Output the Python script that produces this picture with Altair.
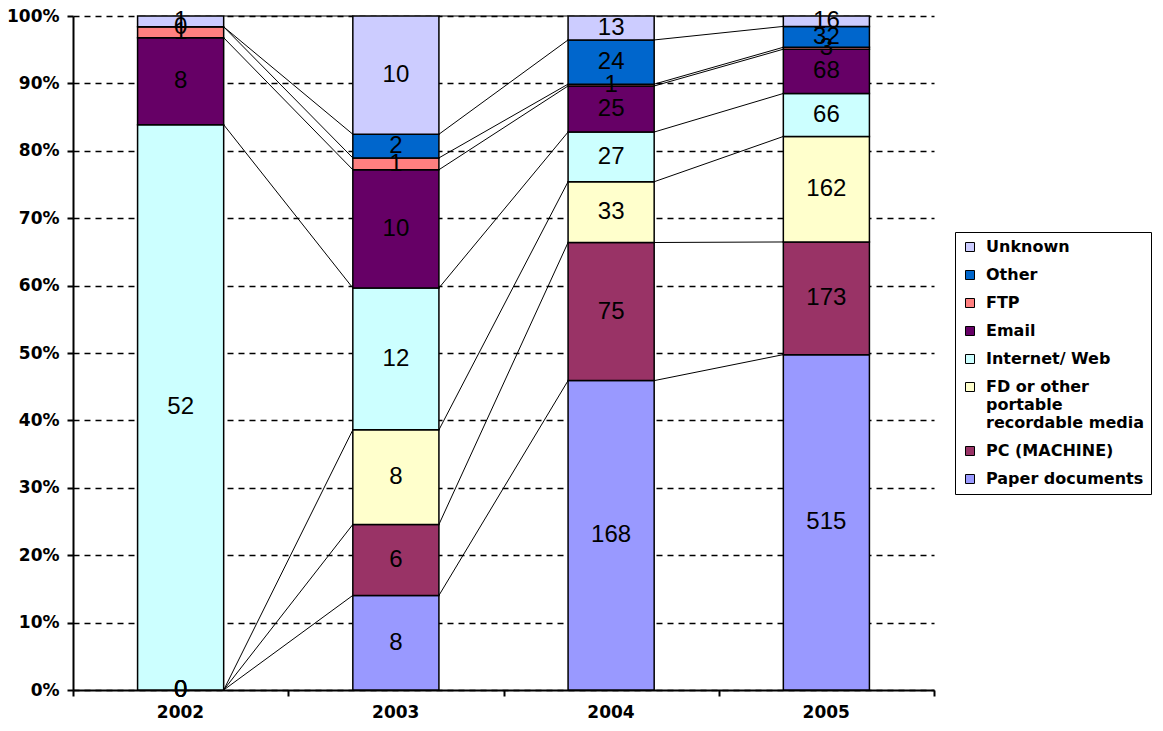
import altair as alt
import pandas as pd

# Incident counts per year, by leak route (stacked bottom to top)
years = ["2002", "2003", "2004", "2005"]
series = [
    "Paper documents",
    "PC (MACHINE)",
    "FD or other portable recordable media",
    "Internet/ Web",
    "Email",
    "FTP",
    "Other",
    "Unknown",
]
colors = ["#9999FF", "#993366", "#FFFFCC", "#CCFFFF", "#660066", "#FF8080", "#0066CC", "#CCCCFF"]

paper = [0, 8, 168, 515]
pc = [0, 6, 75, 173]
fd = [0, 8, 33, 162]
web = [52, 12, 27, 66]
email = [8, 10, 25, 68]
ftp = [1, 1, 1, 3]
other = [0, 2, 24, 32]
unknown = [1, 10, 13, 16]

values = [paper, pc, fd, web, email, ftp, other, unknown]

# Build normalized stacked segments per year
seg_rows = []
tops = {}  # (series, year index) -> cumulative share at top of segment
for i, yr in enumerate(years):
    total = sum(v[i] for v in values)
    cum = 0
    for name, v in zip(series, values):
        y0 = cum / total
        cum += v[i]
        y1 = cum / total
        tops[(name, i)] = y1
        seg_rows.append(
            dict(year=yr, series=name, value=v[i], y0=y0, y1=y1,
                 mid=(y0 + y1) / 2, x0=i + 0.3, x1=i + 0.7, xc=i + 0.5)
        )
segs = pd.DataFrame(seg_rows)

# Series lines joining segment tops of neighbouring bars
line_rows = []
for name in series:
    for i in range(len(years) - 1):
        line_rows.append(
            dict(series=name, xa=i + 0.7, xb=i + 1.3,
                 ya=tops[(name, i)], yb=tops[(name, i + 1)])
        )
lines = pd.DataFrame(line_rows)

xscale = alt.Scale(domain=[0, 4], nice=False, zero=False)
yscale = alt.Scale(domain=[0, 1], nice=False)

year_expr = "[" + ",".join("'%s'" % y for y in years) + "][datum.value] || ''"

x_axis = alt.Axis(
    values=[0, 1, 2, 3, 4],
    labelExpr=year_expr,
    labelOffset=107,
    labelFlush=False,
    labelOverlap=False,
    grid=False,
    tickSize=6,
    tickColor="black",
    tickWidth=2,
    domainColor="black",
    domainWidth=2,
    labelFont="DejaVu Sans",
    labelFontWeight="bold",
    labelFontSize=17,
    labelColor="black",
    labelPadding=8,
)
y_axis = alt.Axis(
    values=[i / 10 for i in range(11)],
    format=".0%",
    grid=True,
    gridColor="black",
    gridDash=[6, 5],
    gridWidth=1.5,
    tickSize=6,
    tickColor="black",
    tickWidth=2,
    domainColor="black",
    domainWidth=2,
    labelFont="DejaVu Sans",
    labelFontWeight="bold",
    labelFontSize=17,
    labelColor="black",
    labelPadding=8,
)

fd_label = series[2]
legend = alt.Legend(
    title=None,
    orient="none",
    legendX=882,
    legendY=216,
    strokeColor="black",
    fillColor="white",
    padding=7,
    symbolType="square",
    symbolSize=81,
    symbolStrokeColor="black",
    symbolStrokeWidth=1,
    labelFont="DejaVu Sans",
    labelFontWeight="bold",
    labelFontSize=16,
    labelColor="black",
    labelLimit=400,
    labelOffset=8,
    rowPadding=12,
    labelExpr="datum.label == '%s' ? ['FD or other', 'portable', 'recordable media'] : datum.label" % fd_label,
)

color = alt.Color(
    "series:N",
    scale=alt.Scale(domain=series[::-1], range=colors[::-1]),
    legend=legend,
)

rules = alt.Chart(lines).mark_rule(color="black", strokeWidth=1).encode(
    x=alt.X("xa:Q", scale=xscale, axis=x_axis, title=None),
    x2="xb:Q",
    y=alt.Y("ya:Q", scale=yscale, axis=y_axis, title=None),
    y2="yb:Q",
)

bars = alt.Chart(segs).mark_bar(stroke="black", strokeWidth=1.5, opacity=1).encode(
    x=alt.X("x0:Q", scale=xscale),
    x2="x1:Q",
    y=alt.Y("y0:Q", scale=yscale),
    y2="y1:Q",
    color=color,
)

labels = alt.Chart(segs).mark_text(
    font="Liberation Sans", fontSize=24, color="black", baseline="middle", align="center"
).encode(
    x=alt.X("xc:Q", scale=xscale),
    y=alt.Y("mid:Q", scale=yscale),
    text="value:Q",
)

chart = (
    alt.layer(rules, bars, labels)
    .properties(
        width=861,
        height=674,
        autosize=alt.AutoSizeParams(type="none"),
        padding={"left": 73, "top": 16, "right": 229, "bottom": 41},
        background="white",
    )
    .configure_view(stroke=None)
)

chart.save("out.html", embed_options={"renderer": "svg", "actions": False})
